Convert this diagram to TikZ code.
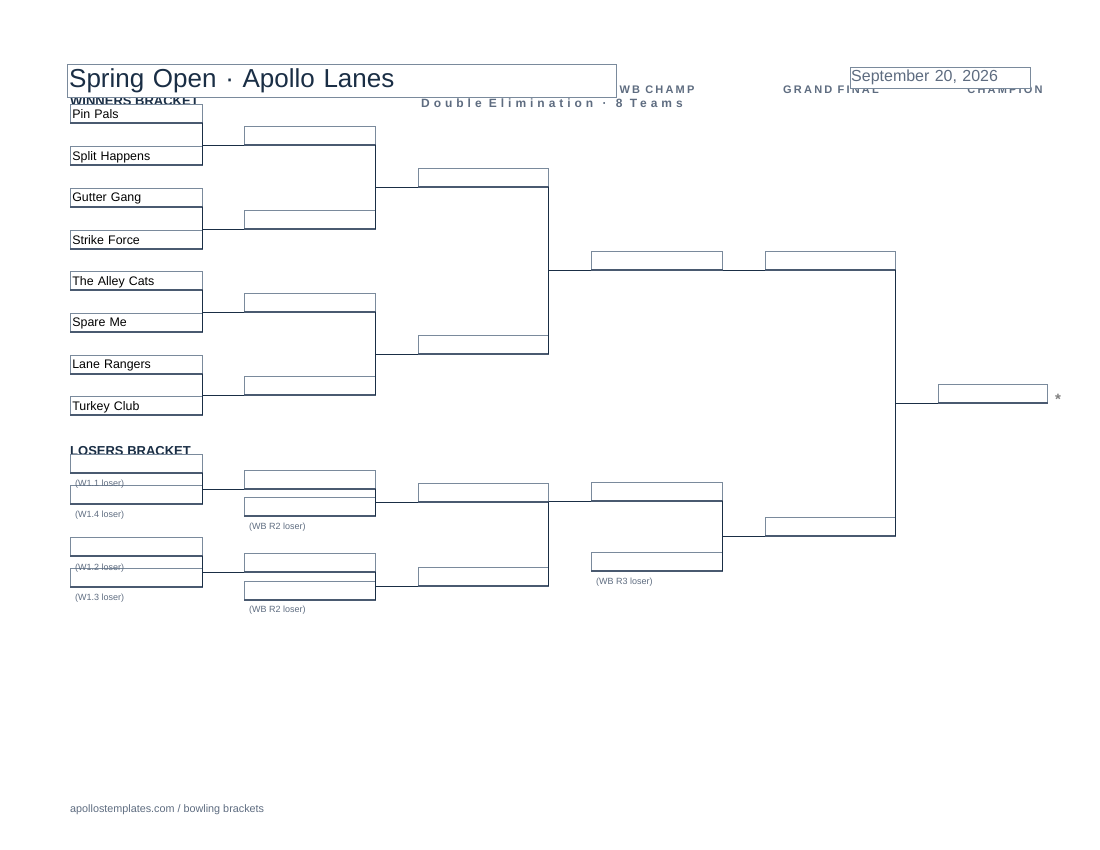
\documentclass[tikz,border=0pt]{standalone}
\usepackage{fontspec}
\setmainfont{Liberation Sans}
\begin{document}
\definecolor{navy}{HTML}{1A2E45}
\definecolor{hdr}{HTML}{5E6C80}
\definecolor{bord}{HTML}{7A8A9C}
\definecolor{botc}{HTML}{4A5A70}
\begin{tikzpicture}[x=1pt,y=-1pt,
  slot/.style={draw=bord,line width=0.7pt,fill=white,anchor=south west,minimum height=18pt,inner sep=2pt,text=black,font=\fontsize{12.4}{12.4}\selectfont,align=left,text depth=0pt},
  bot/.style={draw=botc,line width=1.6pt},
  conn/.style={draw=navy,line width=0.9pt},
  lbl/.style={anchor=west,text=hdr,font=\fontsize{9}{9}\selectfont,inner sep=0pt},
  sec/.style={anchor=west,text=navy,font=\bfseries\fontsize{13}{13}\selectfont,inner sep=0pt},
  col/.style={text=hdr,font=\bfseries\fontsize{11}{11}\selectfont\addfontfeature{LetterSpace=20},inner sep=0pt}]
\useasboundingbox (0,0) rectangle (1100,850);
\newcommand{\bslot}[5]{\node[slot,minimum width=#4pt,text width=#4pt-4pt] (#1) at (#2,#3) {#5};
  \draw[bot] (#1.south west) -- (#1.south east);}
% headers
\node[sec] (wbh) at (70,101) {WINNERS BRACKET};
\node[sec] (lbh) at (70,451) {LOSERS BRACKET};
\node[col] (h1) at (657,90) {WB CHAMP};
\node[col] (h2) at (831,90) {GRAND FINAL};
\node[col] (h3) at (1005,90) {CHAMPION};
\node[text=hdr,font=\bfseries\fontsize{12}{12}\selectfont\addfontfeature{LetterSpace=33},inner sep=0pt] (sub) at (552,103) {Double Elimination \,·\, 8 Teams};
\node[draw=bord,fill=white,anchor=north west,minimum width=549pt,minimum height=33pt,inner sep=2pt,text=navy,font=\fontsize{26}{26}\selectfont,text width=545pt,align=left] (title) at (67,64) {Spring Open · Apollo Lanes};
\node[draw=bord,fill=white,anchor=north west,minimum width=180pt,minimum height=21pt,inner sep=1pt,text=hdr,font=\fontsize{16}{16}\selectfont,text width=178pt,align=left] (date) at (850,67) {September 20, 2026};
% winners R1
\bslot{a1}{70}{123}{132}{Pin Pals}
\bslot{a2}{70}{165}{132}{Split Happens}
\bslot{a3}{70}{207}{132}{Gutter Gang}
\bslot{a4}{70}{249}{132}{Strike Force}
\bslot{a5}{70}{290}{132}{The Alley Cats}
\bslot{a6}{70}{332}{132}{Spare Me}
\bslot{a7}{70}{374}{132}{Lane Rangers}
\bslot{a8}{70}{415}{132}{Turkey Club}
\bslot{b1}{244}{145}{131}{}
\bslot{b2}{244}{229}{131}{}
\bslot{b3}{244}{312}{131}{}
\bslot{b4}{244}{395}{131}{}
\bslot{c1}{418}{187}{130}{}
\bslot{c2}{418}{354}{130}{}
\bslot{wc}{591}{270}{131}{}
\bslot{g1}{765}{270}{130}{}
\bslot{ch}{938}{403}{109}{}
\node[text=gray,font=\bfseries\fontsize{15}{15}\selectfont,inner sep=0pt] (star) at (1058,399) {*};
% losers
\bslot{la}{70}{473}{132}{}
\bslot{lb}{70}{504}{132}{}
\bslot{lc}{70}{556}{132}{}
\bslot{ld}{70}{587}{132}{}
\bslot{ma}{244}{489}{131}{}
\bslot{mb}{244}{516}{131}{}
\bslot{mc}{244}{572}{131}{}
\bslot{md}{244}{600}{131}{}
\bslot{na}{418}{502}{130}{}
\bslot{nb}{418}{586}{130}{}
\bslot{oa}{591}{501}{131}{}
\bslot{ob}{591}{571}{131}{}
\bslot{g2}{765}{536}{130}{}
\node[lbl] (t1) at (75,484) {(W1.1 loser)};
\node[lbl] (t2) at (75,515) {(W1.4 loser)};
\node[lbl] (t3) at (249,527) {(WB R2 loser)};
\node[lbl] (t4) at (75,568) {(W1.2 loser)};
\node[lbl] (t5) at (75,598) {(W1.3 loser)};
\node[lbl] (t6) at (249,610) {(WB R2 loser)};
\node[lbl] (t7) at (596,582) {(WB R3 loser)};
% connectors
\foreach \p/\q/\r in {a1/a2/b1,a3/a4/b2,a5/a6/b3,a7/a8/b4,b1/b2/c1,b3/b4/c2,la/lb/ma,lc/ld/mc,mb/ma/na,md/mc/nb,na/nb/oa,oa/ob/g2}{
  \draw[conn] (\p.south east) -- (\q.south east);
  \draw[conn] (\p.south east |- \r.south) -- (\r.south west);}
\draw[conn] (c1.south east) -- (c2.south east);
\draw[conn] (c1.south east |- wc.south) -- (wc.south west);
\draw[conn] (wc.south east) -- (g1.south west);
\draw[conn] (g1.south east) -- (g2.south east);
\draw[conn] (g1.south east |- ch.south) -- (ch.south west);
\node[anchor=west,text=hdr,font=\fontsize{10.8}{10.8}\selectfont,inner sep=0pt] (foot) at (70,810) {apollostemplates.com / bowling brackets};
\end{tikzpicture}
\end{document}
